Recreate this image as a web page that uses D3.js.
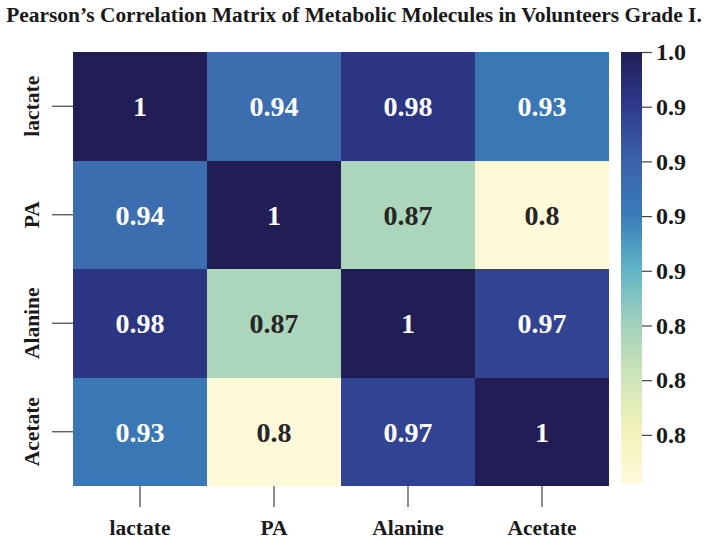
<!DOCTYPE html>
<html>
<head>
<meta charset="utf-8">
<script src="https://cdn.jsdelivr.net/npm/d3@7"></script>
<style>
  html, body { margin: 0; padding: 0; background: #ffffff; }
  svg { display: block; }
  text { font-family: "Liberation Serif", "Times New Roman", serif; font-weight: bold; }
</style>
</head>
<body>
<svg id="chart" width="708" height="540"></svg>
<script>
// ---- data ----
const variables = ["lactate", "PA", "Alanine", "Acetate"];
const rowLactate = [1, 0.94, 0.98, 0.93];
const rowPA = [0.94, 1, 0.87, 0.8];
const rowAlanine = [0.98, 0.87, 1, 0.97];
const rowAcetate = [0.93, 0.8, 0.97, 1];
const matrixRows = [rowLactate, rowPA, rowAlanine, rowAcetate];
const colorbarTicks = [1.0, 0.975, 0.95, 0.925, 0.9, 0.875, 0.85, 0.825];
const colorbarTickLabels = ["1.0", "0.9", "0.9", "0.9", "0.9", "0.8", "0.8", "0.8"];
const colorDomainMin = 0.803;
const colorDomainMax = 1.0;
const titleText = "Pearson\u2019s Correlation Matrix of Metabolic Molecules in Volunteers Grade I.";

// ---- layout ----
const svg = d3.select("#chart");
const plotLeft = 73, plotTop = 52, plotRight = 609, plotBottom = 486;

const x = d3.scaleBand().domain(variables).range([plotLeft, plotRight]).padding(0);
const y = d3.scaleBand().domain(variables).range([plotTop, plotBottom]).padding(0);

// YlGnBu-like palette (as rendered in the reference)
const paletteStops = ["#fef9d9", "#f3f2b9", "#cde4b9", "#9fd0bc", "#5eb3c6", "#3a7bb8", "#3b62a8", "#2e3a8c", "#211e55"];
const interp = d3.piecewise(d3.interpolateRgb, paletteStops);
const color = d3.scaleSequential(interp).domain([colorDomainMin, colorDomainMax]).clamp(true);

const cells = [];
matrixRows.forEach((row, i) => row.forEach((v, j) => cells.push({ r: variables[i], c: variables[j], v })));

svg.append("g").selectAll("rect").data(cells).join("rect")
  .attr("x", d => x(d.c)).attr("y", d => y(d.r))
  .attr("width", x.bandwidth()).attr("height", y.bandwidth())
  .attr("fill", d => color(d.v))
  .attr("shape-rendering", "crispEdges");

svg.append("g").selectAll("text").data(cells).join("text")
  .attr("x", d => x(d.c) + x.bandwidth() / 2)
  .attr("y", d => y(d.r) + y.bandwidth() / 2)
  .attr("text-anchor", "middle").attr("dy", "0.35em")
  .attr("font-size", 28)
  .attr("fill", d => ((d.v - colorDomainMin) / (colorDomainMax - colorDomainMin) < 0.5 ? "#262626" : "#ffffff"))
  .text(d => d3.format("")(d.v));

// axes
const xAxis = svg.append("g").attr("transform", `translate(0,${plotBottom})`)
  .call(d3.axisBottom(x).tickSize(21).tickPadding(13));
const yAxis = svg.append("g").attr("transform", `translate(${plotLeft},0)`)
  .call(d3.axisLeft(y).tickSize(21).tickPadding(8));
[xAxis, yAxis].forEach(a => {
  a.select(".domain").remove();
  a.selectAll(".tick line").attr("stroke", "#444").attr("stroke-width", 1.2);
  a.selectAll(".tick text").attr("font-size", 21.5).attr("fill", "#1a1a1a")
    .style("font-family", '"Liberation Serif", serif').style("font-weight", "bold");
});
// rotated y labels
yAxis.selectAll(".tick text").attr("transform", "rotate(-90)")
  .attr("x", 0).attr("y", -34).attr("dy", "0").attr("text-anchor", "middle");

// colorbar
const cbLeft = 621, cbWidth = 21, cbTop = 52, cbBottom = 483;
const cbScale = d3.scaleLinear().domain([colorDomainMin, colorDomainMax]).range([cbBottom, cbTop]);
const defs = svg.append("defs");
const grad = defs.append("linearGradient").attr("id", "cbgrad")
  .attr("x1", 0).attr("y1", 1).attr("x2", 0).attr("y2", 0);
d3.range(0, 1.0001, 0.025).forEach(t => {
  grad.append("stop").attr("offset", t).attr("stop-color", color(colorDomainMin + t * (colorDomainMax - colorDomainMin)));
});
svg.append("rect").attr("x", cbLeft).attr("y", cbTop).attr("width", cbWidth).attr("height", cbBottom - cbTop)
  .attr("fill", "url(#cbgrad)");

const cbAxis = svg.append("g").attr("transform", `translate(${cbLeft + cbWidth},0)`)
  .call(d3.axisRight(cbScale).tickValues(colorbarTicks).tickSize(10).tickPadding(4)
    .tickFormat((d, i) => colorbarTickLabels[i]));
cbAxis.select(".domain").remove();
cbAxis.selectAll(".tick line").attr("stroke", "#444").attr("stroke-width", 1.2);
cbAxis.selectAll(".tick text").attr("font-size", 24).attr("fill", "#1a1a1a")
  .style("font-family", '"Liberation Serif", serif').style("font-weight", "bold");

// title: sized so it fits the width without glyph compression
const title = svg.append("text").attr("x", 354).attr("y", 22).attr("text-anchor", "middle")
  .attr("font-size", 20).attr("fill", "#1a1a1a")
  .text(titleText);
const natural = title.node().getComputedTextLength();
const fitSize = Math.min(22, 20 * 696 / natural);
title.attr("font-size", fitSize.toFixed(2));
</script>
</body>
</html>
